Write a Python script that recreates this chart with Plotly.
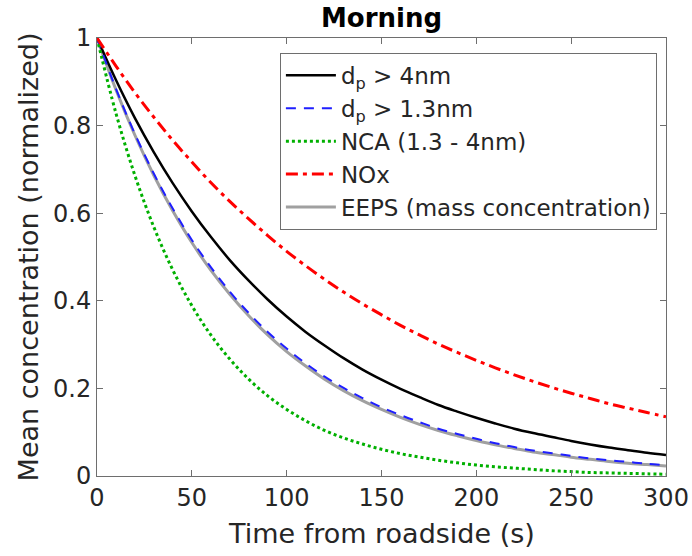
import plotly.graph_objects as go

t = [0, 10, 20, 30, 40, 50, 60, 70, 80, 90, 100, 110, 120, 130, 140, 150,
     160, 170, 180, 190, 200, 210, 220, 230, 240, 250, 260, 270, 280, 290, 300]

dp4 = [1.0, 0.904, 0.817, 0.739, 0.668, 0.604, 0.546, 0.493, 0.446, 0.403, 0.364,
       0.329, 0.298, 0.269, 0.243, 0.220, 0.199, 0.180, 0.162, 0.147, 0.133,
       0.120, 0.108, 0.098, 0.089, 0.080, 0.072, 0.065, 0.059, 0.053, 0.048]
dp13 = [1.0, 0.884, 0.781, 0.690, 0.610, 0.539, 0.477, 0.421, 0.372, 0.329, 0.291,
        0.257, 0.227, 0.201, 0.178, 0.157, 0.139, 0.123, 0.108, 0.096, 0.085,
        0.075, 0.066, 0.058, 0.052, 0.046, 0.040, 0.036, 0.032, 0.028, 0.025]
nca = [1.0, 0.828, 0.686, 0.568, 0.470, 0.389, 0.322, 0.267, 0.221, 0.183, 0.152,
       0.126, 0.104, 0.087, 0.073, 0.061, 0.051, 0.043, 0.036, 0.030, 0.025,
       0.021, 0.018, 0.015, 0.012, 0.010, 0.008, 0.007, 0.006, 0.005, 0.004]
nox = [1.0, 0.936, 0.875, 0.819, 0.766, 0.717, 0.670, 0.627, 0.587, 0.549, 0.513,
       0.480, 0.449, 0.420, 0.393, 0.368, 0.344, 0.322, 0.301, 0.282, 0.264,
       0.247, 0.231, 0.216, 0.202, 0.189, 0.177, 0.165, 0.155, 0.145, 0.135]
eeps = [1.0, 0.882, 0.778, 0.686, 0.605, 0.533, 0.470, 0.415, 0.366, 0.322, 0.284,
        0.251, 0.221, 0.195, 0.172, 0.152, 0.134, 0.118, 0.104, 0.092, 0.081,
        0.071, 0.063, 0.055, 0.049, 0.043, 0.038, 0.033, 0.029, 0.026, 0.023]

x_ticks = [0, 50, 100, 150, 200, 250, 300]
y_ticks = [0, 0.2, 0.4, 0.6, 0.8, 1]
y_tick_labels = ["0", "0.2", "0.4", "0.6", "0.8", "1"]

FONT = "DejaVu Sans"
TXT = "#262626"
AX = "#6e6e6e"

fig = go.Figure()
fig.add_trace(go.Scatter(x=t, y=eeps, mode="lines", name="EEPS (mass concentration)",
                         line=dict(color="#a0a0a0", width=3, shape="spline"), legendrank=5))
fig.add_trace(go.Scatter(x=t, y=dp4, mode="lines", name="d<sub>p</sub> > 4nm",
                         line=dict(color="black", width=2.5, shape="spline"), legendrank=1))
fig.add_trace(go.Scatter(x=t, y=dp13, mode="lines", name="d<sub>p</sub> > 1.3nm",
                         line=dict(color="#1f1fff", width=2, dash="10px,8px", shape="spline"), legendrank=2))
fig.add_trace(go.Scatter(x=t, y=nca, mode="lines", name="NCA (1.3 - 4nm)",
                         line=dict(color="#00b000", width=3, dash="3px,3px", shape="spline"), legendrank=3))
fig.add_trace(go.Scatter(x=t, y=nox, mode="lines", name="NOx",
                         line=dict(color="#ff0000", width=3, dash="12px,5px,4px,5px", shape="spline"), legendrank=4))

fig.update_layout(
    width=692, height=556,
    margin=dict(l=97, r=26, t=38, b=80),
    paper_bgcolor="white", plot_bgcolor="white",
    font=dict(family=FONT, color=TXT, size=25),
    title=dict(text="<b>Morning</b>", x=(97 + 666) / 2 / 692, xanchor="center",
               y=1 - 18 / 556, yanchor="middle", font=dict(size=26, color="black")),
    legend=dict(x=0.984, y=0.966, xanchor="right", yanchor="top",
                bgcolor="white", bordercolor=AX, borderwidth=1,
                font=dict(size=23, color=TXT), tracegroupgap=0, itemwidth=50),
    annotations=[dict(text="Time from roadside (s)", xref="paper", yref="paper",
                      x=0.5, y=(476 - 533) / 438, xanchor="center", yanchor="middle",
                      showarrow=False, font=dict(size=27, color=TXT))],
)
fig.update_xaxes(range=[0, 300], tickvals=x_ticks, ticks="inside", ticklen=6,
                 showline=True, linecolor=AX, linewidth=1, mirror="ticks",
                 tickcolor=AX, showgrid=False, zeroline=False,
                 tickfont=dict(size=24), automargin=False)
fig.update_yaxes(range=[0, 1], tickvals=y_ticks, ticktext=y_tick_labels, ticks="inside", ticklen=6,
                 showline=True, linecolor=AX, linewidth=1, mirror="ticks",
                 tickcolor=AX, showgrid=False, zeroline=False,
                 title=dict(text="Mean concentration (normalized)", font=dict(size=27), standoff=6),
                 tickfont=dict(size=24), automargin=False)

fig.write_html("out.html")
